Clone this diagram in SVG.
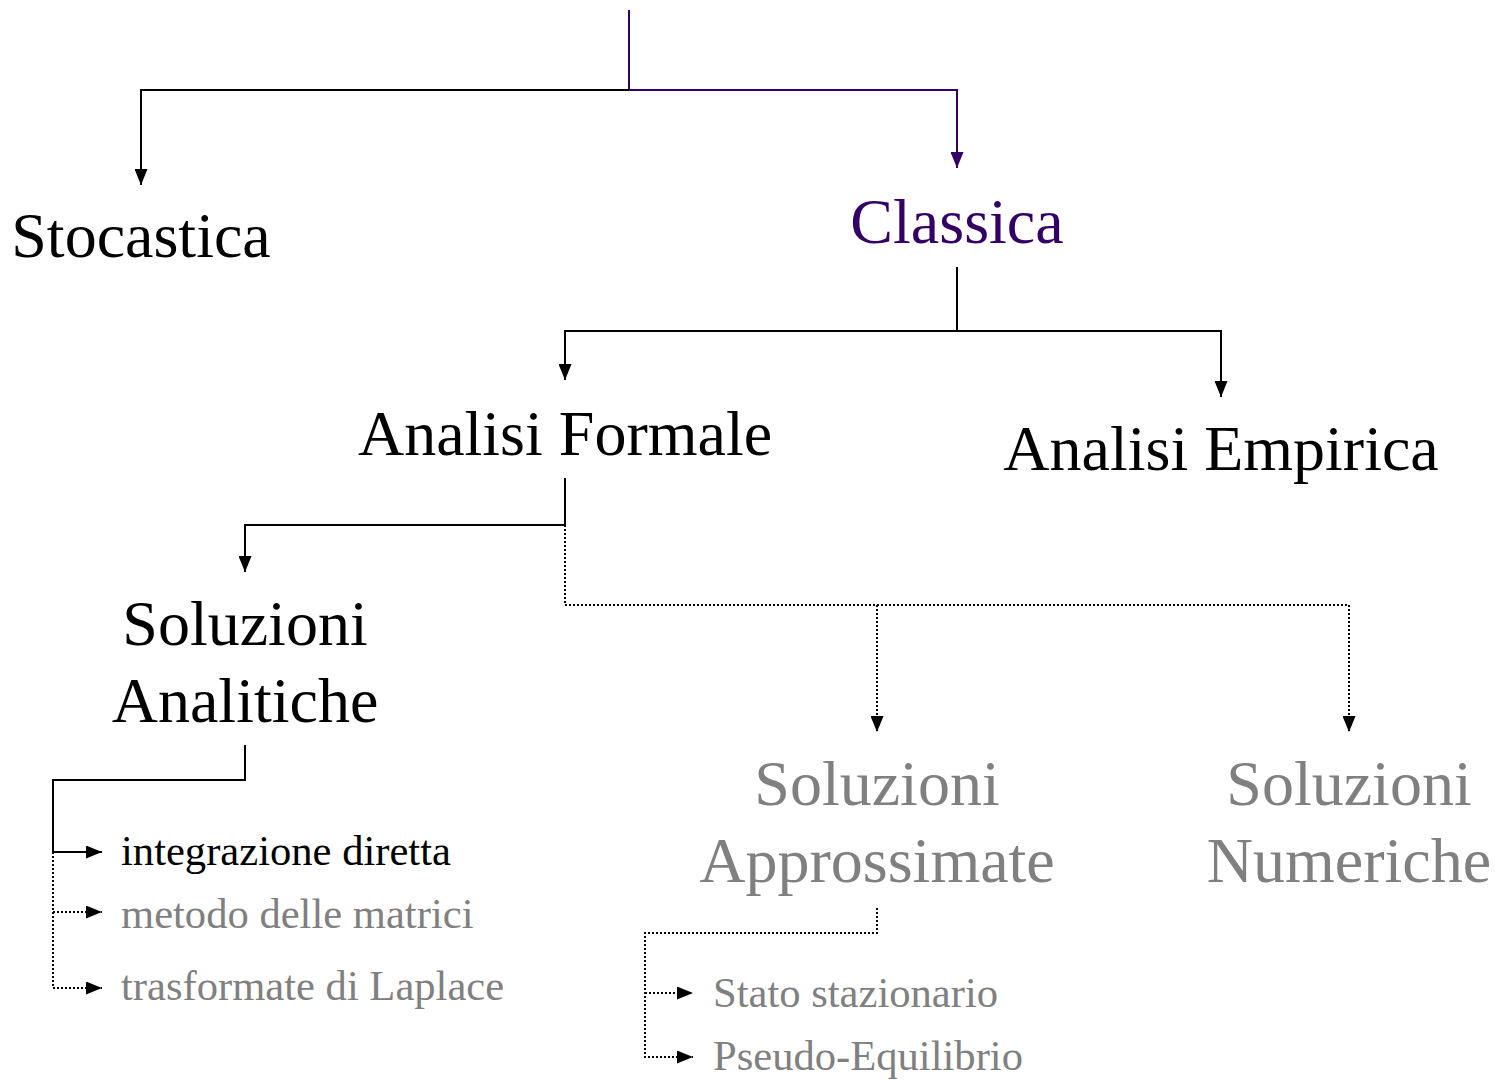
<svg xmlns="http://www.w3.org/2000/svg" width="1495" height="1080" viewBox="0 0 1495 1080">
<style>
.t{font-family:"Liberation Serif","Times New Roman",serif;font-size:64px;fill:#000;text-anchor:middle}
.s{font-family:"Liberation Serif","Times New Roman",serif;font-size:42.6px;fill:#000}
.g{fill:#808080}
.p{fill:#330066}
.ln{fill:none;stroke:#000;stroke-width:2}
.lp{fill:none;stroke:#330066;stroke-width:2}
.dt{fill:none;stroke:#000;stroke-width:2;stroke-dasharray:2 2}
</style>
<defs>
<marker id="ah" viewBox="0 0 16 13" refX="16" refY="6.5" markerWidth="16" markerHeight="13" markerUnits="userSpaceOnUse" orient="auto"><path d="M0,0 L16,6.5 L0,13 z" fill="#000"/></marker>
<marker id="ahp" viewBox="0 0 16 13" refX="16" refY="6.5" markerWidth="16" markerHeight="13" markerUnits="userSpaceOnUse" orient="auto"><path d="M0,0 L16,6.5 L0,13 z" fill="#330066"/></marker>
</defs>
<rect width="1495" height="1080" fill="#fff"/>
<g id="connectors">
<path class="lp" d="M629,10 V90"/>
<path class="ln" d="M629,90 H141 V185" marker-end="url(#ah)"/>
<path class="lp" d="M629,90 H957 V168" marker-end="url(#ahp)"/>
<path class="ln" d="M957,267 V331 H565 V380" marker-end="url(#ah)"/>
<path class="ln" d="M957,331 H1221 V397" marker-end="url(#ah)"/>
<path class="ln" d="M565,478 V525 H245 V572" marker-end="url(#ah)"/>
<path class="dt" d="M565,525 V605 H1349 V732" marker-end="url(#ah)"/>
<path class="dt" d="M877,605 V732" marker-end="url(#ah)"/>
<path class="ln" d="M245,745 V780 H53 V852 H102" marker-end="url(#ah)"/>
<path class="dt" d="M53,852 V988 H102" marker-end="url(#ah)"/>
<path class="dt" d="M53,912 H102" marker-end="url(#ah)"/>
<path class="dt" d="M877,908 V933 H645 V1057 H693" marker-end="url(#ah)"/>
<path class="dt" d="M645,993 H693" marker-end="url(#ah)"/>
</g>
<g id="stocastica"><text class="t" x="141" y="257">Stocastica</text></g>
<g id="classica"><text class="t p" x="957" y="243">Classica</text></g>
<g id="analisi-formale"><text class="t" x="565" y="455">Analisi Formale</text></g>
<g id="analisi-empirica"><text class="t" x="1221" y="470">Analisi Empirica</text></g>
<g id="soluzioni-analitiche"><text class="t" x="245" y="645">Soluzioni</text><text class="t" x="245" y="722">Analitiche</text></g>
<g id="soluzioni-approssimate"><text class="t g" x="877" y="805">Soluzioni</text><text class="t g" x="877" y="882">Approssimate</text></g>
<g id="soluzioni-numeriche"><text class="t g" x="1349" y="805">Soluzioni</text><text class="t g" x="1349" y="882">Numeriche</text></g>
<g id="integrazione-diretta"><text class="s" x="121" y="865">integrazione diretta</text></g>
<g id="metodo-matrici"><text class="s g" x="121" y="928">metodo delle matrici</text></g>
<g id="trasformate-laplace"><text class="s g" x="121" y="1000">trasformate di Laplace</text></g>
<g id="stato-stazionario"><text class="s g" x="713" y="1007">Stato stazionario</text></g>
<g id="pseudo-equilibrio"><text class="s g" x="713" y="1070">Pseudo-Equilibrio</text></g>
</svg>
